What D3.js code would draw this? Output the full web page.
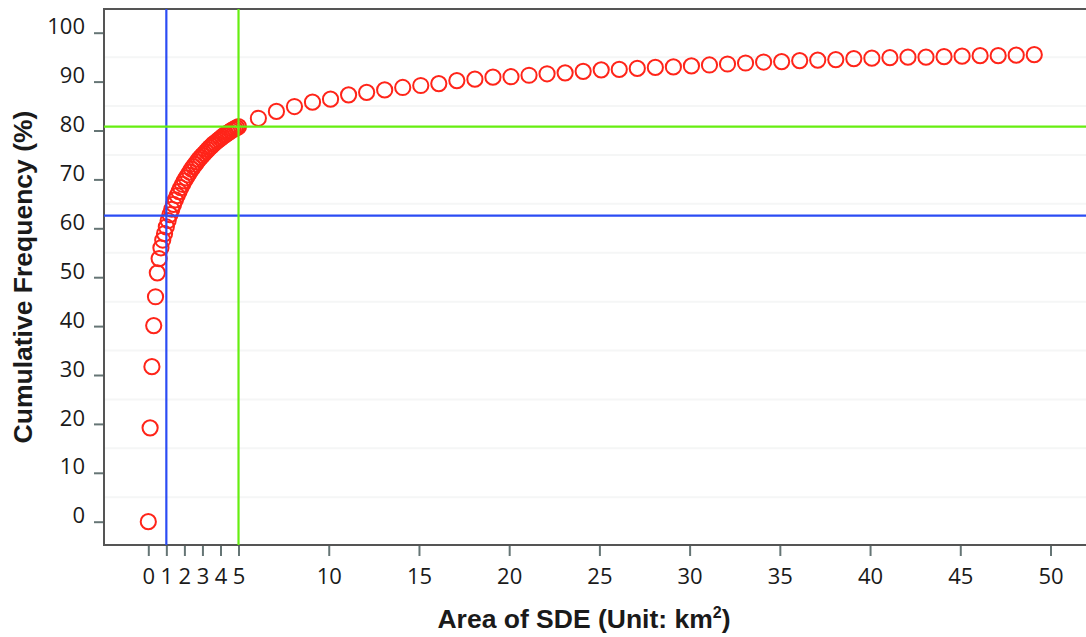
<!DOCTYPE html>
<html>
<head>
<meta charset="utf-8">
<script src="https://cdn.jsdelivr.net/npm/d3@7/dist/d3.min.js"></script>
<style>
  body { margin: 0; background: #fff; }
  .tick text { font-family: "Open Sans", sans-serif; font-size: 22px; fill: #1a1a1a; }
  .title { font-family: "Liberation Sans", Arial, sans-serif; font-weight: bold; font-size: 26.5px; fill: #1a1a1a; }
</style>
</head>
<body>
<script>
// Data
var areaValues = [
  0, 0.1, 0.2, 0.3, 0.4, 0.5, 0.6, 0.7, 0.8, 0.9,
  1.0, 1.1, 1.2, 1.3, 1.4, 1.5, 1.6, 1.7, 1.8, 1.9,
  2.0, 2.1, 2.2, 2.3, 2.4, 2.5, 2.6, 2.7, 2.8, 2.9,
  3.0, 3.1, 3.2, 3.3, 3.4, 3.5, 3.6, 3.7, 3.8, 3.9,
  4.0, 4.1, 4.2, 4.3, 4.4, 4.5, 4.6, 4.7, 4.8, 4.9, 5.0,
  6.1, 7.1, 8.1, 9.1, 10.1, 11.1, 12.1, 13.1, 14.1, 15.1,
  16.1, 17.1, 18.1, 19.1, 20.1, 21.1, 22.1, 23.1, 24.1, 25.1,
  26.1, 27.1, 28.1, 29.1, 30.1, 31.1, 32.1, 33.1, 34.1, 35.1,
  36.1, 37.1, 38.1, 39.1, 40.1, 41.1, 42.1, 43.1, 44.1, 45.1,
  46.1, 47.1, 48.1, 49.1
];
var cumFreq = [
  0, 19.2, 31.7, 40.1, 46.0, 50.9, 53.8, 56.0, 57.6, 58.9,
  60.3, 61.6, 62.8, 63.9, 64.9, 65.8, 66.7, 67.5, 68.3, 69.0,
  69.7, 70.3, 70.9, 71.5, 72.1, 72.6, 73.1, 73.6, 74.1, 74.5,
  74.9, 75.3, 75.7, 76.1, 76.5, 76.8, 77.2, 77.5, 77.8, 78.1,
  78.4, 78.7, 79.0, 79.2, 79.5, 79.7, 80.0, 80.2, 80.4, 80.6, 80.8,
  82.5, 83.9, 84.9, 85.8, 86.4, 87.3, 87.8, 88.3, 88.8, 89.2,
  89.6, 90.2, 90.5, 90.9, 91.0, 91.3, 91.6, 91.8, 92.1, 92.4,
  92.5, 92.7, 92.9, 93.0, 93.2, 93.4, 93.6, 93.8, 94.0, 94.1,
  94.3, 94.4, 94.5, 94.7, 94.8, 94.9, 95.0, 95.0, 95.1, 95.2,
  95.3, 95.3, 95.4, 95.5
];
var xTicks = [0, 1, 2, 3, 4, 5, 10, 15, 20, 25, 30, 35, 40, 45, 50];
var yTicks = [0, 10, 20, 30, 40, 50, 60, 70, 80, 90, 100];
var gridValues = [5, 15, 25, 35, 45, 55, 65, 75, 85, 95];

// reference lines: [x, y]
var blueRef = [1, 62.6];
var greenRef = [5, 80.8];

var svgWidth = 1086;
var svgHeight = 637;

var chartMargin = { top: 9, right: 0, bottom: 92, left: 104 };
var chartWidth = svgWidth - chartMargin.left - chartMargin.right;
var chartHeight = svgHeight - chartMargin.top - chartMargin.bottom;

var svg = d3.select("body")
  .append("svg")
  .attr("width", svgWidth)
  .attr("height", svgHeight);

var chartGroup = svg.append("g")
  .attr("transform", `translate(${chartMargin.left}, ${chartMargin.top})`);

var xScale = d3.scaleLinear()
  .domain([0, 50])
  .range([44.3, 946.5]);

var yScale = d3.scaleLinear()
  .domain([0, 100])
  .range([512.7, 23.7]);

// faint grid
chartGroup.selectAll(".grid")
  .data(gridValues)
  .enter()
  .append("line")
  .attr("x1", 0)
  .attr("x2", chartWidth)
  .attr("y1", d => yScale(d))
  .attr("y2", d => yScale(d))
  .attr("stroke", "#f5f6f6")
  .attr("stroke-width", 2);

// axes
var leftAxis = d3.axisLeft(yScale).tickValues(yTicks).tickSize(10).tickPadding(9);
var bottomAxis = d3.axisBottom(xScale).tickValues(xTicks).tickSize(11);

var yAxisG = chartGroup.append("g").call(leftAxis);
yAxisG.select(".domain").remove();
yAxisG.selectAll(".tick line").attr("stroke", "#657575").attr("stroke-width", 2);
yAxisG.selectAll(".tick text").attr("dy", "0.05em");

var xAxisG = chartGroup.append("g")
  .attr("transform", `translate(0, ${chartHeight})`)
  .call(bottomAxis);
xAxisG.select(".domain").remove();
xAxisG.selectAll(".tick line").attr("stroke", "#657575").attr("stroke-width", 2);
xAxisG.selectAll(".tick text").attr("y", 39).attr("dy", 0);

// frame
chartGroup.append("path")
  .attr("d", `M${chartWidth},0H0V${chartHeight}H${chartWidth}`)
  .attr("fill", "none")
  .attr("stroke", "#555")
  .attr("stroke-width", 2);

// points
chartGroup.selectAll(".pt")
  .data(areaValues)
  .enter()
  .append("circle")
  .attr("class", "pt")
  .attr("cx", d => xScale(d))
  .attr("cy", (d, i) => yScale(cumFreq[i]))
  .attr("r", 7.6)
  .attr("fill", "none")
  .attr("stroke", "#ff2419")
  .attr("stroke-width", 2);

// reference lines
function refLines(ref, color) {
  chartGroup.append("line")
    .attr("x1", xScale(ref[0])).attr("x2", xScale(ref[0]))
    .attr("y1", 0).attr("y2", chartHeight)
    .attr("stroke", color).attr("stroke-width", 2.2);
  chartGroup.append("line")
    .attr("x1", 0).attr("x2", chartWidth)
    .attr("y1", yScale(ref[1])).attr("y2", yScale(ref[1]))
    .attr("stroke", color).attr("stroke-width", 2.2);
}
refLines(blueRef, "#2b4cf4");
refLines(greenRef, "#66ee11");

// axis titles
svg.append("text")
  .attr("class", "title")
  .attr("x", 584)
  .attr("y", 628)
  .style("text-anchor", "middle")
  .html("Area of SDE (Unit: km<tspan dy='-10' font-size='16px'>2</tspan><tspan dy='10'>)</tspan>");

svg.append("text")
  .attr("class", "title")
  .attr("transform", "rotate(-90)")
  .attr("x", -277)
  .attr("y", 32)
  .style("text-anchor", "middle")
  .text("Cumulative Frequency (%)");
</script>
</body>
</html>
